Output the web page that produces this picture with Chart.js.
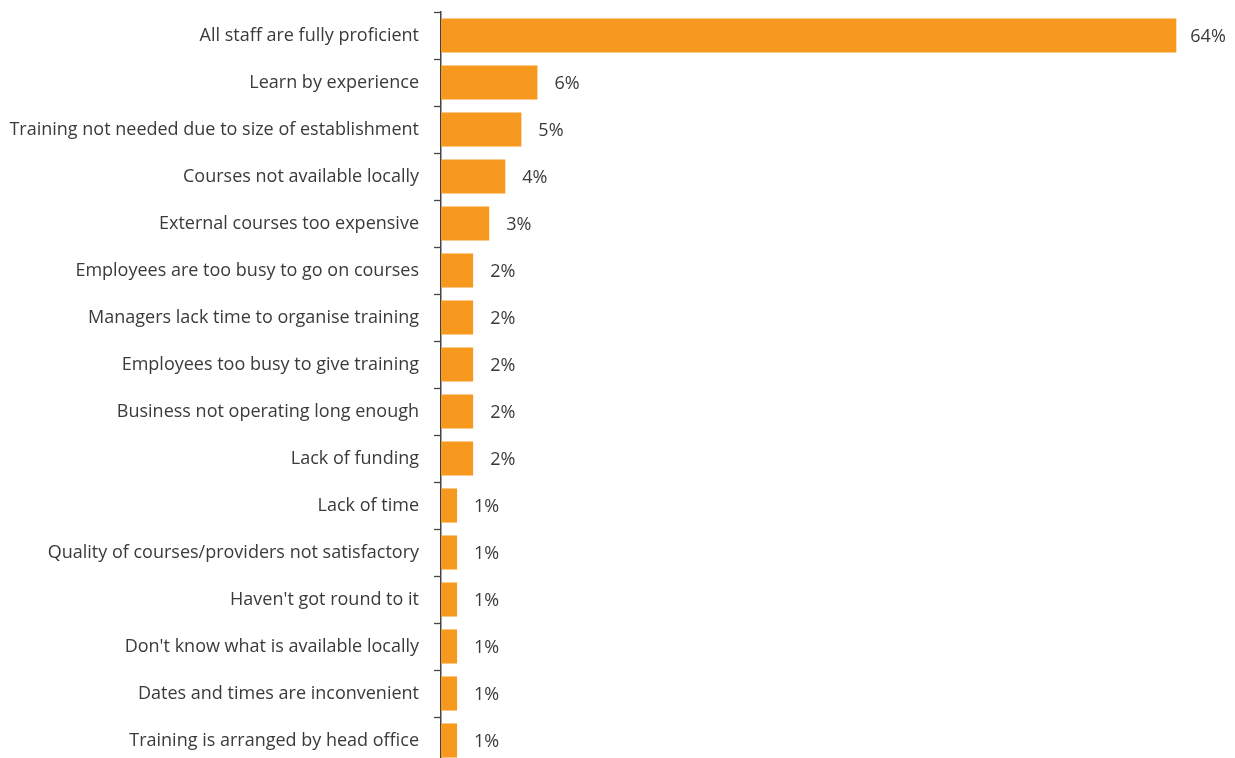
<!DOCTYPE html>
<html>
<head>
<meta charset="utf-8">
<script src="https://cdn.jsdelivr.net/npm/chart.js@4.4.1/dist/chart.umd.min.js"></script>
<style>
  html, body { margin: 0; padding: 0; background: #ffffff; overflow: hidden; }
  #wrap { position: relative; width: 1235px; height: 764px; }
</style>
</head>
<body>
<div id="wrap"><canvas id="chart"></canvas></div>
<script>
// Reasons given for not providing training
const categories = [
  "All staff are fully proficient",
  "Learn by experience",
  "Training not needed due to size of establishment",
  "Courses not available locally",
  "External courses too expensive",
  "Employees are too busy to go on courses",
  "Managers lack time to organise training",
  "Employees too busy to give training",
  "Business not operating long enough",
  "Lack of funding",
  "Lack of time",
  "Quality of courses/providers not satisfactory",
  "Haven't got round to it",
  "Don't know what is available locally",
  "Dates and times are inconvenient",
  "Training is arranged by head office"
];
const percentages = [64, 6, 5, 4, 3, 2, 2, 2, 2, 2, 1, 1, 1, 1, 1, 1];

const BAR_COLOR = "#F7981F";
const TEXT_COLOR = "#3a3a3a";
const FONT_FAMILY = "'Open Sans', 'Noto Sans', sans-serif";
const FONT_SIZE = 18;

// Value axis with a break: values above BREAK_AT are compressed so the
// dominant bar fits while the small bars stay readable.
const BREAK_AT = 10;
const SQUEEZE = 0.662;
function squeeze(v) {
  return v <= BREAK_AT ? v : BREAK_AT + (v - BREAK_AT) * SQUEEZE;
}

class BrokenLinearScale extends Chart.LinearScale {
  getPixelForValue(value) {
    return super.getPixelForValue(squeeze(value));
  }
}
BrokenLinearScale.id = "brokenLinear";
BrokenLinearScale.defaults = Chart.LinearScale.defaults;
Chart.register(BrokenLinearScale);

// Percentage labels written just past the end of each bar
const valueLabels = {
  id: "valueLabels",
  afterDatasetsDraw(chart) {
    const ctx = chart.ctx;
    const meta = chart.getDatasetMeta(0);
    ctx.save();
    ctx.font = FONT_SIZE + "px " + FONT_FAMILY;
    ctx.fillStyle = TEXT_COLOR;
    ctx.textAlign = "left";
    ctx.textBaseline = "middle";
    meta.data.forEach((bar, i) => {
      const gap = percentages[i] >= 10 ? 14 : 17;
      ctx.fillText(percentages[i] + "%", bar.x + gap, bar.y + 1);
    });
    ctx.restore();
  }
};

new Chart(document.getElementById("chart"), {
  type: "bar",
  data: {
    labels: categories,
    datasets: [{
      data: percentages,
      backgroundColor: BAR_COLOR,
      borderWidth: 0,
      categoryPercentage: 1.0,
      barPercentage: 0.725
    }]
  },
  options: {
    indexAxis: "y",
    responsive: true,
    maintainAspectRatio: false,
    animation: false,
    layout: { padding: { top: 12, right: 0, bottom: 0, left: 0 } },
    plugins: {
      legend: { display: false },
      tooltip: { enabled: false }
    },
    scales: {
      x: {
        type: "brokenLinear",
        display: false,
        min: 0,
        max: 49.4
      },
      y: {
        type: "category",
        offset: true,
        afterFit(scale) {
          scale.width = 441;
          scale.paddingTop = 0;
          scale.paddingBottom = 0;
        },
        grid: {
          offset: true,
          drawOnChartArea: false,
          drawTicks: true,
          tickLength: 7,
          tickWidth: 1.3,
          color: "#444444"
        },
        border: { display: true, color: "#444444", width: 1.5 },
        ticks: {
          color: TEXT_COLOR,
          padding: 15,
          font: { family: FONT_FAMILY, size: FONT_SIZE }
        }
      }
    }
  },
  plugins: [valueLabels]
});
</script>
</body>
</html>
